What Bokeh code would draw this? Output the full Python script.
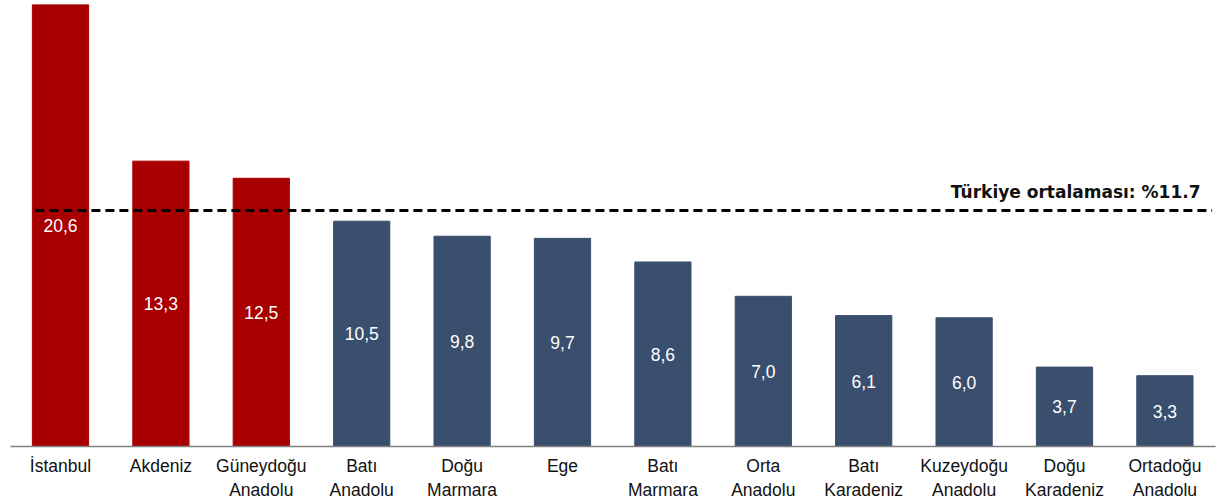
from bokeh.plotting import figure
from bokeh.models import Range1d, FixedTicker, ColumnDataSource
from bokeh.core.properties import value
from bokeh.embed import file_html
from bokeh.resources import INLINE

regions = ["İstanbul", "Akdeniz", "Güneydoğu\nAnadolu", "Batı\nAnadolu", "Doğu\nMarmara", "Ege",
           "Batı\nMarmara", "Orta\nAnadolu", "Batı\nKaradeniz", "Kuzeydoğu\nAnadolu",
           "Doğu\nKaradeniz", "Ortadoğu\nAnadolu"]
values = [20.6, 13.3, 12.5, 10.5, 9.8, 9.7, 8.6, 7.0, 6.1, 6.0, 3.7, 3.3]
above_avg = [True, True, True, False, False, False, False, False, False, False, False, False]
avg_line_level = 11.0
avg_label = "Türkiye ortalaması: %11.7"

RED = "#A80000"
BLUE = "#3A4E6E"

xs = list(range(len(regions)))
src = ColumnDataSource(dict(
    x=xs,
    top=values,
    mid=[v / 2 for v in values],
    lab=[f"{v:.1f}".replace(".", ",") for v in values],
    color=[RED if a else BLUE for a in above_avg],
))

p = figure(width=1216, height=503, output_backend="svg", toolbar_location=None,
           x_range=Range1d(-0.498, 11.504), y_range=Range1d(0, 20.6),
           min_border_left=10, min_border_right=1, min_border_top=4, min_border_bottom=57)
p.outline_line_color = None
p.xgrid.visible = False
p.ygrid.visible = False
p.yaxis.visible = False

p.vbar(x="x", top="top", bottom=0, width=0.56, color="color", source=src)
p.text(x="x", y="mid", text="lab", source=src, text_color="white",
       text_font=value("Liberation Sans"), text_font_size="17.5px",
       text_align="center", text_baseline="middle")

p.line(x=[-0.25, 11.47], y=[avg_line_level, avg_line_level], line_color="black",
       line_width=3, line_dash="9 5")
p.text(x=[11.355], y=[avg_line_level], text=[avg_label], text_color="#111111",
       text_font=value("DejaVu Sans"), text_font_style="bold", text_font_size="17px",
       text_align="right", text_baseline="bottom", y_offset=-8)

ax = p.xaxis[0]
ax.ticker = FixedTicker(ticks=xs)
ax.major_label_overrides = {i: r for i, r in enumerate(regions)}
ax.major_tick_line_color = None
ax.minor_tick_line_color = None
ax.axis_line_color = "#808080"
ax.axis_line_width = 1.5
ax.major_label_text_font = "Liberation Sans"
ax.major_label_text_font_size = "17.5px"
ax.major_label_text_color = "#111111"
ax.major_label_standoff = 3

open("out.html", "w").write(file_html(p, INLINE))
